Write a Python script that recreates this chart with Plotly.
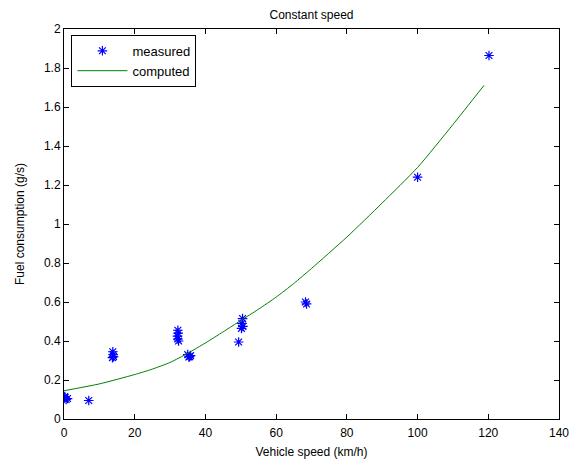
import plotly.graph_objects as go

# measured points (vehicle speed km/h, fuel g/s)
measured_speed = [0, 0.3, 0.6, 1.0, 0.2, 7,
                  13.8, 13.9, 14.0, 13.7,
                  32.2, 32.3, 32.1, 32.2, 32.4,
                  35.0, 35.5, 35.8, 35.3,
                  49.4, 50.5, 50.3, 50.6, 50.2,
                  68.3, 68.6, 100, 120.2]
measured_fuel = [0.105, 0.11, 0.10, 0.105, 0.115, 0.095,
                 0.345, 0.33, 0.32, 0.315,
                 0.455, 0.44, 0.425, 0.41, 0.40,
                 0.33, 0.32, 0.325, 0.318,
                 0.395, 0.515, 0.49, 0.475, 0.465,
                 0.60, 0.59, 1.24, 1.864]

# computed model curve
computed_speed = [0, 10, 20, 25, 30, 35, 40, 45, 50, 55, 60, 65, 70, 80, 90, 100, 110, 118.8]
computed_fuel = [0.145, 0.18, 0.228, 0.256, 0.29, 0.337, 0.39, 0.447, 0.505, 0.563, 0.625,
                 0.695, 0.772, 0.933, 1.108, 1.29, 1.51, 1.711]

fig = go.Figure()

fig.add_trace(go.Scatter(
    x=measured_speed, y=measured_fuel, mode='markers', name='measured',
    marker=dict(symbol='asterisk-open', size=8, color='#0000ff',
                line=dict(color='#0000ff', width=1.2)),
))

fig.add_trace(go.Scatter(
    x=computed_speed, y=computed_fuel, mode='lines', name='computed',
    line=dict(color='#008000', width=1, shape='spline', smoothing=0.6),
))

axis_style = dict(
    showline=True, linecolor='black', linewidth=1, mirror='ticks',
    ticks='inside', ticklen=5, tickcolor='black', showgrid=False, zeroline=False,
    tickfont=dict(size=12, color='black'),
)

# page has an 8px body margin, so margins are shifted to compensate
fig.update_layout(
    width=584, height=461,
    margin=dict(l=56, r=33, t=21, b=50),
    paper_bgcolor='white', plot_bgcolor='white',
    font=dict(family='Liberation Sans, Arial, sans-serif', size=12, color='black'),
    title=dict(text='Constant speed', xref='paper', x=0.5, xanchor='center',
               yref='container', y=0.985, yanchor='middle', font=dict(size=12)),
    xaxis=dict(range=[0, 140], dtick=20, ticklabelstandoff=3,
               title=dict(text='Vehicle speed (km/h)', standoff=8, font=dict(size=12)),
               **axis_style),
    yaxis=dict(range=[0, 2], dtick=0.2,
               title=dict(text='Fuel consumption (g/s)', standoff=16, font=dict(size=12)),
               **axis_style),
    legend=dict(x=0.015, y=0.985, xanchor='left', yanchor='top',
                bordercolor='black', borderwidth=1, bgcolor='white',
                font=dict(size=13), tracegroupgap=0, itemwidth=50),
    showlegend=True,
)

fig.write_html("out.html")
